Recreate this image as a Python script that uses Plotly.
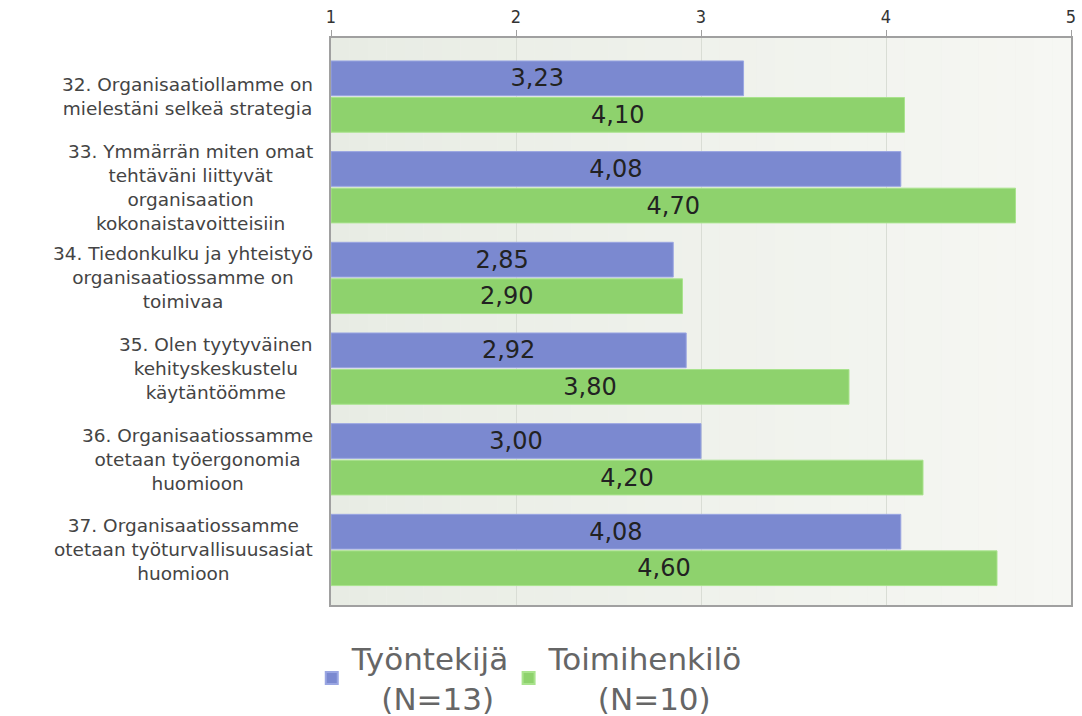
import plotly.graph_objects as go

# Survey statements (questions 32-37) and mean answers on a 1-5 scale
categories = [
    "32. Organisaatiollamme on<br>mielestäni selkeä strategia",
    "33. Ymmärrän miten omat<br>tehtäväni liittyvät<br>organisaation<br>kokonaistavoitteisiin",
    "34. Tiedonkulku ja yhteistyö<br>organisaatiossamme on<br>toimivaa",
    "35. Olen tyytyväinen<br>kehityskeskustelu<br>käytäntöömme",
    "36. Organisaatiossamme<br>otetaan työergonomia<br>huomioon",
    "37. Organisaatiossamme<br>otetaan työturvallisuusasiat<br>huomioon",
]
tyontekija = [3.23, 4.08, 2.85, 2.92, 3.00, 4.08]
toimihenkilo = [4.10, 4.70, 2.90, 3.80, 4.20, 4.60]
series_names = [("Työntekijä", "(N=13)", 3), ("Toimihenkilö", "(N=10)", 5)]
x_ticks = [1, 2, 3, 4, 5]

AXIS_MIN, AXIS_MAX = 1, 5
positions = list(range(len(categories)))
NBSP = "\u00a0"


def legend_name(title, n_label, pad):
    return f"{title}<br>{NBSP * pad}{n_label}"


def fmt(v):
    return f"{v:.2f}".replace(".", ",")


fig = go.Figure()
for values, (title, n_label, pad), color, edge, legend_id in [
    (tyontekija, series_names[0], "#7b89d0", "#9aa6e2", "legend"),
    (toimihenkilo, series_names[1], "#8ed26d", "#a9e38d", "legend2"),
]:
    fig.add_trace(go.Bar(
        y=positions,
        x=[v - AXIS_MIN for v in values],
        base=[AXIS_MIN] * len(values),
        orientation="h",
        name=legend_name(title, n_label, pad),
        legend=legend_id,
        marker=dict(color=color, line=dict(color=edge, width=1)),
        text=[fmt(v) for v in values],
        textposition="inside",
        insidetextanchor="middle",
        textangle=0,
        constraintext="none",
        textfont=dict(family="DejaVu Sans", size=24, color="#222222"),
    ))

# soft left-to-right background gradient of the plotting area
n_steps = 40
c0, c1 = (232, 236, 228), (246, 247, 243)
for i in range(n_steps):
    t = i / (n_steps - 1)
    col = tuple(round(a + (b - a) * t) for a, b in zip(c0, c1))
    fig.add_shape(
        type="rect", xref="x domain", yref="y domain",
        x0=i / n_steps, x1=(i + 1) / n_steps, y0=0, y1=1,
        fillcolor=f"rgb{col}", line=dict(width=0), layer="below",
    )

# category labels, centred line by line to the left of the plot
for pos, label in zip(positions, categories):
    fig.add_annotation(
        xref="paper", yref="y", x=-0.022, y=pos,
        text=label, showarrow=False, xanchor="right", yanchor="middle",
        align="center",
        font=dict(family="DejaVu Sans", size=18.5, color="#444444"),
    )

legend_style = dict(
    orientation="h", xanchor="left", y=-0.046, yanchor="top",
    font=dict(family="DejaVu Sans", size=31, color="#666666"),
    itemsizing="constant", bgcolor="rgba(0,0,0,0)",
)

fig.update_layout(
    width=1082, height=716,
    margin=dict(l=331, r=11, t=38, b=111, autoexpand=False),
    paper_bgcolor="white",
    plot_bgcolor="#eef0ea",
    barmode="group",
    bargap=0.194,
    bargroupgap=0.05,
    showlegend=True,
    legend=dict(x=-0.026, **legend_style),
    legend2=dict(x=0.240, **legend_style),
    xaxis=dict(
        side="top", range=[AXIS_MIN, AXIS_MAX], tickvals=x_ticks,
        ticktext=[str(t) for t in x_ticks],
        showgrid=True, gridcolor="#d9ddd5", gridwidth=1,
        showline=True, linecolor="#a0a0a0", linewidth=1.5, mirror=True,
        ticks="outside", ticklen=6, tickcolor="#a0a0a0",
        tickfont=dict(family="DejaVu Sans Condensed, DejaVu Sans", size=18, color="#333333"),
        zeroline=False, fixedrange=True, automargin=False,
    ),
    yaxis=dict(
        range=[len(categories) - 1 + 0.607, -0.646],
        showticklabels=False, showgrid=False, zeroline=False,
        showline=True, linecolor="#a0a0a0", linewidth=1.5, mirror=True,
        fixedrange=True, automargin=False,
    ),
)

fig.write_html("out.html")
